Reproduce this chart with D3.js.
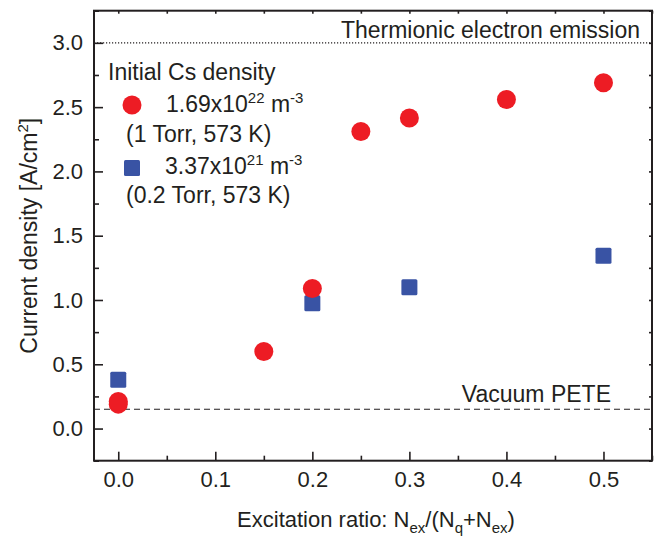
<!DOCTYPE html>
<html>
<head>
<meta charset="utf-8">
<script src="https://cdn.jsdelivr.net/npm/d3@7"></script>
<style>
  body { margin: 0; background: #fff; }
  svg { font-family: "Liberation Sans", Arial, sans-serif; }
  .axis path, .axis line { stroke: #231f20; }
  .axis text { fill: #231f20; font-size: 22px; font-family: "Liberation Sans", Arial, sans-serif; }
</style>
</head>
<body>
<div id="chart"></div>
<script>
// data
const ratio1Torr = [0.0, 0.0, 0.15, 0.2, 0.25, 0.3, 0.4, 0.5]
const current1Torr = [0.19, 0.21, 0.60, 1.09, 2.31, 2.415, 2.56, 2.69]
const ratio02Torr = [0.0, 0.2, 0.3, 0.5]
const current02Torr = [0.38, 0.975, 1.10, 1.345]
const xTicks = [0.0, 0.1, 0.2, 0.3, 0.4, 0.5]
const yTicks = [0.0, 0.5, 1.0, 1.5, 2.0, 2.5, 3.0]
const thermionicLevel = 3.0
const vacuumPeteLevel = 0.15

const W = 657, H = 538
const margin = { left: 94, right: 5, top: 10.7, bottom: 77.3 }
const width = W - margin.left - margin.right
const height = H - margin.top - margin.bottom
const ink = "#231f20"
const red = "#ed1c24"
const blue = "#3953a4"

const svg = d3.select("#chart").append("svg")
    .attr("width", W)
    .attr("height", H)

const xScale = d3.scaleLinear().domain([-0.025, 0.55]).range([0, width])
const yScale = d3.scaleLinear().domain([-0.25, 3.25]).range([height, 0])

const g = svg.append("g").attr("transform", `translate(${margin.left},${margin.top})`)

// minor ticks
const xMinor = d3.range(0, 0.551, 0.05).filter(v => Math.abs(Math.round(v * 10) - v * 10) > 0.01)
const yMinor = d3.range(-0.25, 3.26, 0.25).filter(v => Math.abs(Math.round(v * 2) - v * 2) > 0.01)

g.append("g").attr("class", "axis")
    .attr("transform", `translate(0,${height})`)
    .call(d3.axisBottom(xScale).tickValues(xMinor).tickSize(-5).tickFormat(""))
g.append("g").attr("class", "axis")
    .call(d3.axisLeft(yScale).tickValues(yMinor).tickSize(-5).tickFormat(""))

g.append("g").attr("class", "axis")
    .attr("transform", `translate(0,${height})`)
    .call(d3.axisBottom(xScale).tickValues(xTicks).tickSize(-9).tickSizeOuter(0)
        .tickPadding(11).tickFormat(d3.format(".1f")))
g.append("g").attr("class", "axis")
    .call(d3.axisLeft(yScale).tickValues(yTicks).tickSize(-9).tickSizeOuter(0)
        .tickPadding(11).tickFormat(d3.format(".1f")))

// top / right small ticks
g.append("g").attr("class", "axis")
    .call(d3.axisTop(xScale).tickValues(d3.range(0, 0.551, 0.05)).tickSize(-3).tickSizeOuter(0).tickFormat(""))
g.append("g").attr("class", "axis")
    .attr("transform", `translate(${width},0)`)
    .call(d3.axisRight(yScale).tickValues(d3.range(-0.25, 3.26, 0.25)).tickSize(-3).tickSizeOuter(0).tickFormat(""))

g.selectAll(".axis .domain").remove()
g.selectAll(".axis line").attr("stroke-width", 1.6)

// frame
g.append("rect")
    .attr("width", width).attr("height", height)
    .attr("fill", "none").attr("stroke", ink).attr("stroke-width", 2)

// reference lines
g.append("line")
    .attr("x1", 0).attr("x2", width)
    .attr("y1", yScale(thermionicLevel)).attr("y2", yScale(thermionicLevel))
    .attr("stroke", ink).attr("stroke-width", 1.1).attr("stroke-dasharray", "1.2,1.8")
g.append("line")
    .attr("x1", 0).attr("x2", width)
    .attr("y1", yScale(vacuumPeteLevel)).attr("y2", yScale(vacuumPeteLevel))
    .attr("stroke", ink).attr("stroke-width", 1.1).attr("stroke-dasharray", "6,4")

g.append("text")
    .attr("x", width - 12).attr("y", yScale(thermionicLevel) - 5)
    .attr("text-anchor", "end").attr("font-size", 23).attr("fill", ink)
    .text("Thermionic electron emission")
g.append("text")
    .attr("x", width - 41).attr("y", yScale(vacuumPeteLevel) - 7)
    .attr("text-anchor", "end").attr("font-size", 23).attr("fill", ink)
    .text("Vacuum PETE")

// data
const pts1 = ratio1Torr.map((x, i) => ({ x, y: current1Torr[i] }))
const pts2 = ratio02Torr.map((x, i) => ({ x, y: current02Torr[i] }))

g.selectAll(".sq").data(pts2).enter().append("rect")
    .attr("class", "sq")
    .attr("x", d => xScale(d.x) - 8).attr("y", d => yScale(d.y) - 8)
    .attr("width", 16).attr("height", 16).attr("rx", 1.5)
    .attr("fill", blue)
g.selectAll(".dot").data(pts1).enter().append("circle")
    .attr("class", "dot")
    .attr("cx", d => xScale(d.x)).attr("cy", d => yScale(d.y))
    .attr("r", 9.5)
    .attr("fill", red)

// legend
const legend = svg.append("g").attr("font-size", 23).attr("fill", ink)
legend.append("text").attr("x", 108).attr("y", 80).text("Initial Cs density")
legend.append("circle").attr("cx", 132).attr("cy", 105).attr("r", 9.5).attr("fill", red)
const l1 = legend.append("text").attr("x", 166).attr("y", 112)
l1.append("tspan").text("1.69x10")
l1.append("tspan").attr("font-size", 15).attr("dy", -9).text("22")
l1.append("tspan").attr("dy", 9).text(" m")
l1.append("tspan").attr("font-size", 15).attr("dy", -9).text("-3")
legend.append("text").attr("x", 126).attr("y", 142).text("(1 Torr, 573 K)")
legend.append("rect").attr("x", 124).attr("y", 160).attr("width", 16).attr("height", 16)
    .attr("rx", 1.5).attr("fill", blue)
const l2 = legend.append("text").attr("x", 165).attr("y", 174)
l2.append("tspan").text("3.37x10")
l2.append("tspan").attr("font-size", 15).attr("dy", -9).text("21")
l2.append("tspan").attr("dy", 9).text(" m")
l2.append("tspan").attr("font-size", 15).attr("dy", -9).text("-3")
legend.append("text").attr("x", 126).attr("y", 203).text("(0.2 Torr, 573 K)")

// axis titles
const xLabel = svg.append("text")
    .attr("x", margin.left + width / 2 + 3).attr("y", 527)
    .attr("text-anchor", "middle").attr("font-size", 22).attr("fill", ink)
xLabel.append("tspan").text("Excitation ratio: N")
xLabel.append("tspan").attr("font-size", 15).attr("dy", 6).text("ex")
xLabel.append("tspan").attr("dy", -6).text("/(N")
xLabel.append("tspan").attr("font-size", 15).attr("dy", 6).text("q")
xLabel.append("tspan").attr("dy", -6).text("+N")
xLabel.append("tspan").attr("font-size", 15).attr("dy", 6).text("ex")
xLabel.append("tspan").attr("dy", -6).text(")")

const yLabel = svg.append("text")
    .attr("transform", `translate(37,${margin.top + height / 2}) rotate(-90)`)
    .attr("text-anchor", "middle").attr("font-size", 23).attr("fill", ink)
yLabel.append("tspan").text("Current density [A/cm")
yLabel.append("tspan").attr("font-size", 15).attr("dy", -9).text("2")
yLabel.append("tspan").attr("dy", 9).text("]")
</script>
</body>
</html>
